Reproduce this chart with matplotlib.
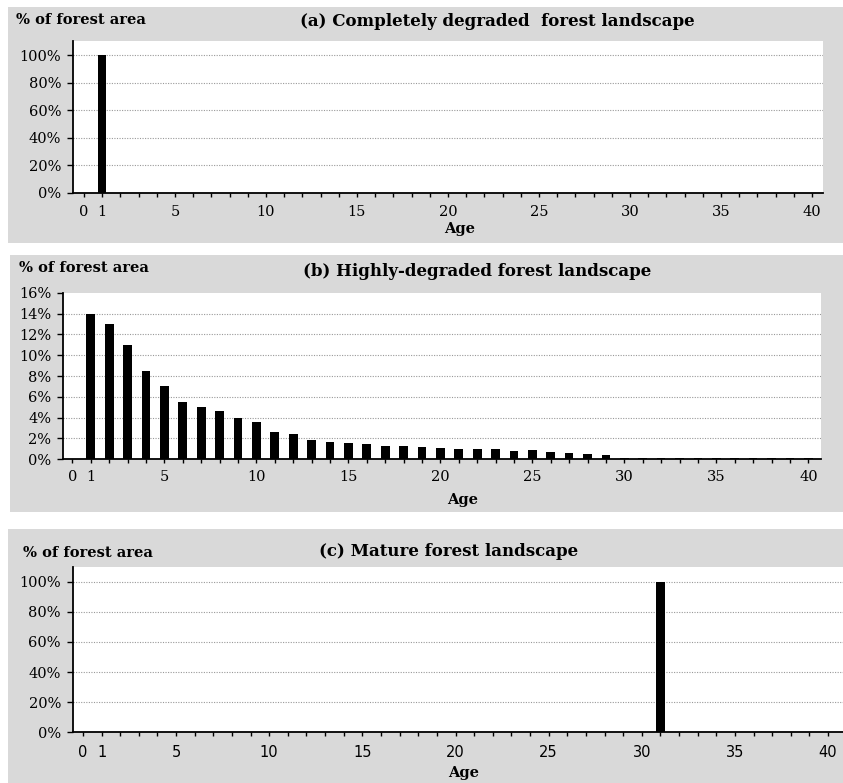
import matplotlib
matplotlib.use("Agg")
import matplotlib.pyplot as plt
from matplotlib.patches import Rectangle

# Age classes 0..40
ages = list(range(0, 41))

# (a) completely degraded: all area in age class 1
share_a = [0] * 41
share_a[1] = 100

# (b) highly degraded: declining age distribution (% of forest area)
share_b = [0, 14.0, 13.0, 11.0, 8.5, 7.0, 5.5, 5.0, 4.6, 4.0, 3.6,
           2.6, 2.4, 1.9, 1.65, 1.55, 1.45, 1.32, 1.3, 1.18, 1.08,
           0.96, 0.96, 0.96, 0.84, 0.85, 0.74, 0.63, 0.54, 0.4, 0.15,
           0.15, 0.15, 0.15, 0.15, 0.15, 0.15, 0.15, 0.15, 0.15, 0.15]

# (c) mature: all area in age class 31
share_c = [0] * 41
share_c[31] = 100

titles = ["(a) Completely degraded  forest landscape",
          "(b) Highly-degraded forest landscape",
          "(c) Mature forest landscape"]
yticks_a = [0, 20, 40, 60, 80, 100]
yticks_b = [0, 2, 4, 6, 8, 10, 12, 14, 16]
yticks_c = [0, 20, 40, 60, 80, 100]
xtick_labels = {0: "0", 1: "1", 5: "5", 10: "10", 15: "15", 20: "20",
                25: "25", 30: "30", 35: "35", 40: "40"}

W, H = 843, 783
fig = plt.figure(figsize=(W / 100, H / 100), dpi=100)
fig.patch.set_facecolor("white")

PANEL = "#d9d9d9"
SERIF = "DejaVu Serif"
TICKFONT = "DejaVu Serif"
TICKSIZE = 10.5


def fx(x):
    return x / W


def fy(y):
    return 1 - y / H


def panel_rect(x0, y0, x1, y1):
    fig.patches.append(Rectangle((fx(x0), fy(y1)), fx(x1) - fx(x0), fy(y0) - fy(y1),
                                 transform=fig.transFigure, facecolor=PANEL,
                                 edgecolor="none", zorder=-10))


def make_axes(x0, y0, x1, y1):
    ax = fig.add_axes([fx(x0), fy(y1), fx(x1) - fx(x0), fy(y0) - fy(y1)])
    ax.set_zorder(2)
    return ax


def style(ax, values, yticks, ylim, xlim, width, xfont, xpad, ypad=4.5):
    ax.set_facecolor("white")
    ax.bar(ages, values, width=width, color="black", zorder=3)
    ax.set_xlim(*xlim)
    ax.set_ylim(*ylim)
    for v in yticks:
        if 0 < v < ylim[1] - 1e-9:
            ax.axhline(v, color="#999999", lw=0.8, ls=(0, (1, 1.3)), zorder=1)
    ax.set_yticks(yticks)
    ax.set_yticklabels([f"{v}%" for v in yticks], family=TICKFONT, fontsize=TICKSIZE)
    ax.set_xticks(ages)
    ax.set_xticklabels([xtick_labels.get(a, "") for a in ages], family=xfont,
                       fontsize=TICKSIZE)
    for s in ["top", "right"]:
        ax.spines[s].set_visible(False)
    for s in ["left", "bottom"]:
        ax.spines[s].set_color("black")
        ax.spines[s].set_linewidth(1.3)
    ax.tick_params(axis="x", direction="out", length=3, width=1, pad=xpad, colors="black")
    ax.tick_params(axis="y", direction="out", length=4, width=1, pad=ypad, colors="black")


def label(x, y, s, size, ha="left"):
    fig.text(fx(x), fy(y), s, ha=ha, va="center", family=SERIF,
             fontweight="bold", fontsize=size)


# Panel (a)
panel_rect(8, 7, 843, 243)
ax_a = make_axes(73, 40.7, 822.7, 192.7)
style(ax_a, share_a, yticks_a, (0, 110.4), (-0.6, 40.59), 0.47, TICKFONT, 6)
label(16, 20, "% of forest area", 10.5)
label(497, 22, titles[0], 12, ha="center")
label(460, 229, "Age", 10.5, ha="center")

# Panel (b)
panel_rect(10, 255, 843, 512)
ax_b = make_axes(63, 292.7, 820.7, 459.3)
style(ax_b, share_b, yticks_b, (0, 16), (-0.51, 40.67), 0.47, TICKFONT, 5)
label(19, 268, "% of forest area", 10.5)
label(477, 272, titles[1], 12, ha="center")
label(463, 500, "Age", 10.5, ha="center")

# Panel (c)
panel_rect(8, 529, 843, 783)
ax_c = make_axes(72.7, 566.7, 843, 732.3)
style(ax_c, share_c, yticks_c, (0, 110), (-0.55, 40.8), 0.53, "DejaVu Sans", 6)
label(23, 553, "% of forest area", 10.5)
label(449, 552, titles[2], 12, ha="center")
label(464, 773, "Age", 10.5, ha="center")

fig.savefig("out.png", dpi=100, facecolor="white")
